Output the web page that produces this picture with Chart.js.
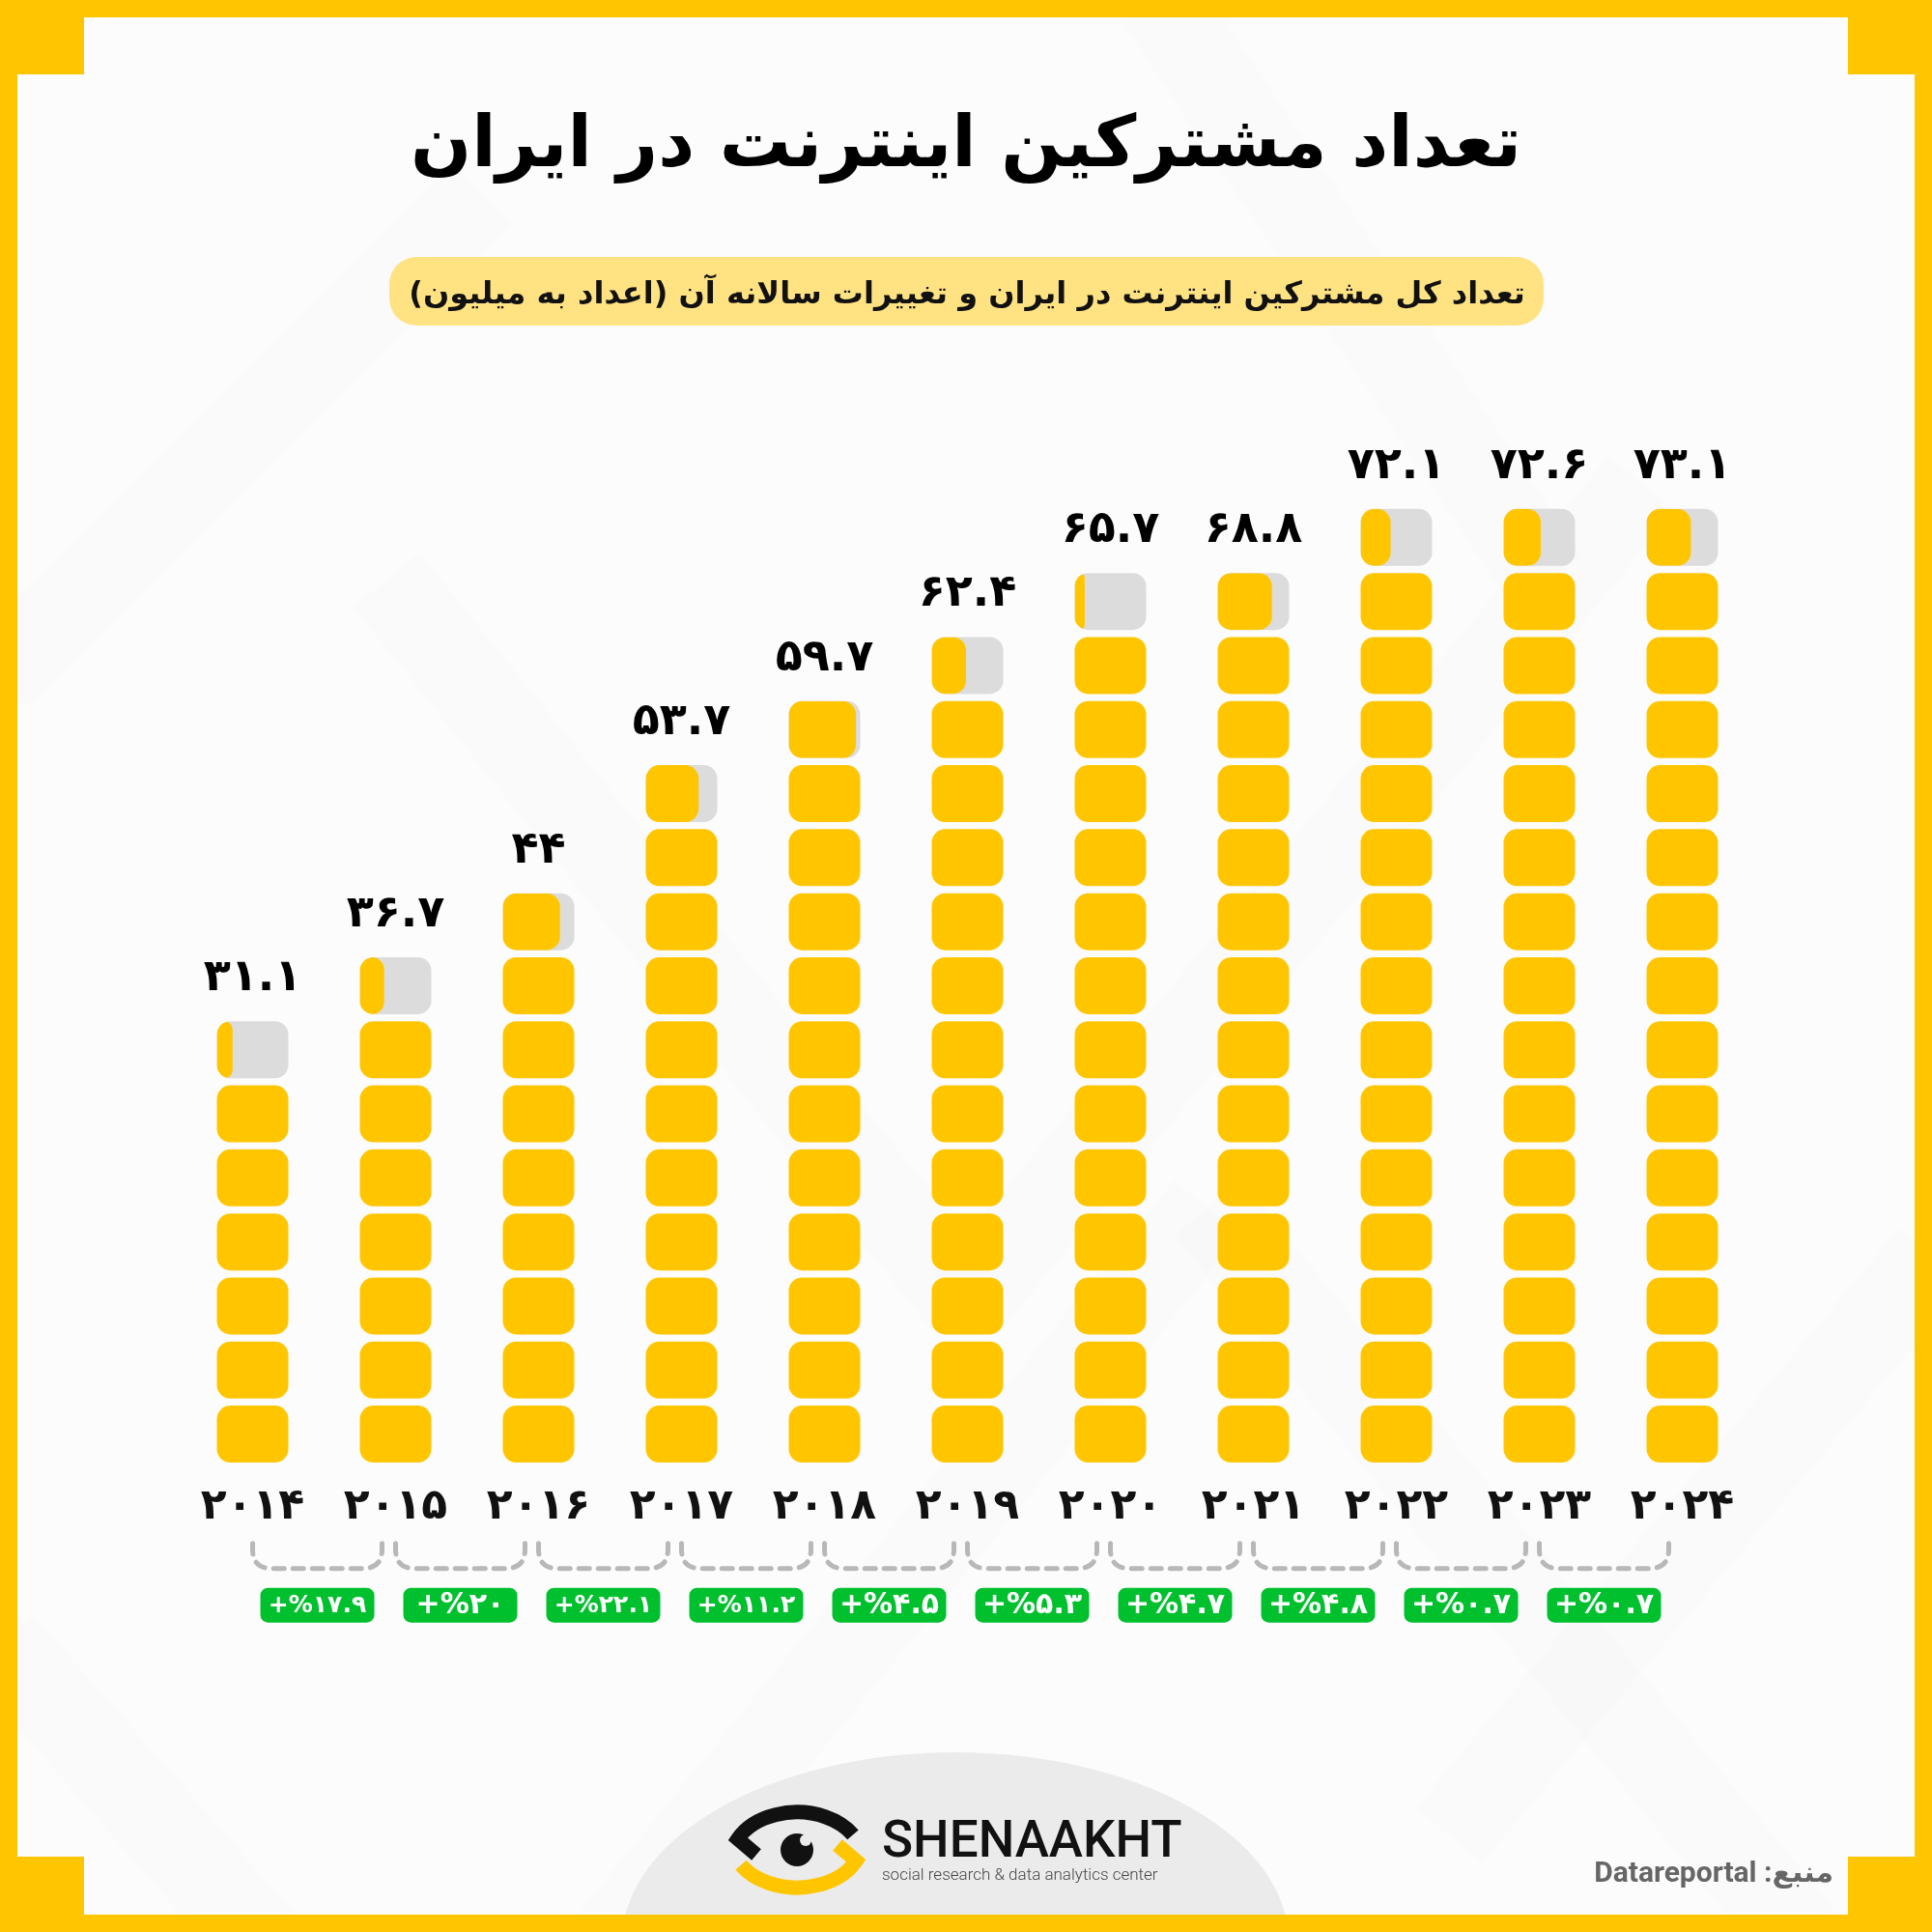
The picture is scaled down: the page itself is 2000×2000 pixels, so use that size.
<!DOCTYPE html>
<html>
<head>
<meta charset="utf-8">
<script src="https://cdn.jsdelivr.net/npm/chart.js@4.4.1/dist/chart.umd.min.js"></script>
<style>
  html, body { margin: 0; padding: 0; background: #fff; }
  canvas { display: block; }
</style>
</head>
<body>
<canvas id="chart" width="2000" height="2000"></canvas>
<script>
// data (millions of subscribers)
const years = [2014, 2015, 2016, 2017, 2018, 2019, 2020, 2021, 2022, 2023, 2024];
const subscribers = [31.1, 36.7, 44, 53.7, 59.7, 62.4, 65.7, 68.8, 72.1, 72.6, 73.1];
const growth = [17.9, 20, 22.1, 11.2, 4.5, 5.3, 4.7, 4.8, 0.7, 0.7];

const title = 'تعداد مشترکین اینترنت در ایران';
const subtitle = 'تعداد کل مشترکین اینترنت در ایران و تغییرات سالانه آن (اعداد به میلیون)';
const source = 'منبع: Datareportal';

const blockSize = 5;     // one block = 5 million
const gap = 0.275;       // gap between blocks, in value units
const yellow = '#FFC600';
const grey = '#DCDCDC';
const green = '#00C02E';

const toFa = s => String(s).replace(/\d/g, d => '۰۱۲۳۴۵۶۷۸۹'[d]);

const fullCounts = subscribers.map(v => Math.floor(v / blockSize));
const maxBlocks = Math.max(...fullCounts);

const datasets = [];
for (let k = 0; k < maxBlocks; k++) {
  datasets.push({
    label: 'block ' + (k + 1),
    data: fullCounts.map(n => k < n ? [k * blockSize + gap, (k + 1) * blockSize - gap] : null),
    backgroundColor: yellow
  });
}
// top block: grey shell, yellow part drawn over it by the plugin below
datasets.push({
  label: 'remainder',
  data: fullCounts.map(n => [n * blockSize + gap, (n + 1) * blockSize - gap]),
  backgroundColor: grey
});
datasets.forEach(d => {
  d.grouped = false;
  d.borderRadius = 14;
  d.borderSkipped = false;
  d.barPercentage = 0.5;
  d.categoryPercentage = 1;
});

function fitFont(ctx, text, weight, family, maxSize, maxWidth) {
  let size = maxSize;
  ctx.font = `${weight} ${size}px ${family}`;
  const w = ctx.measureText(text).width;
  if (w > maxWidth) size = Math.floor(size * maxWidth / w);
  ctx.font = `${weight} ${size}px ${family}`;
  return size;
}

const frame = {
  id: 'frame',
  beforeDraw(chart) {
    const ctx = chart.ctx;
    ctx.save();
    ctx.fillStyle = yellow;
    ctx.fillRect(0, 0, 2000, 2000);
    ctx.fillStyle = '#FCFCFC';
    ctx.fillRect(18, 18, 1964, 1964);
    // faint diagonal bands
    ctx.beginPath();
    ctx.rect(18, 18, 1964, 1964);
    ctx.clip();
    ctx.strokeStyle = 'rgba(0,0,0,0.008)';
    ctx.lineWidth = 90;
    [[0, 1700, 350, 2100], [600, 2050, 1250, 1250], [1250, 1250, 1900, 2050],
     [400, 600, 1000, 1350], [1000, 1350, 1700, 500], [1200, 0, 1600, 600],
     [0, 700, 500, 200], [1500, 1900, 2000, 1300]].forEach(l => {
      ctx.beginPath(); ctx.moveTo(l[0], l[1]); ctx.lineTo(l[2], l[3]); ctx.stroke();
    });
    // footer half ellipse
    ctx.fillStyle = '#EBEBEB';
    ctx.beginPath();
    ctx.ellipse(989, 2010, 345, 196, 0, 0, Math.PI * 2);
    ctx.fill();
    ctx.restore();
    ctx.save();
    ctx.fillStyle = yellow;
    ctx.fillRect(0, 0, 87, 77);
    ctx.fillRect(1913, 0, 87, 77);
    ctx.fillRect(0, 1922, 87, 78);
    ctx.fillRect(1913, 1922, 87, 78);
    ctx.restore();
  }
};

const partialFill = {
  id: 'partialFill',
  afterDatasetsDraw(chart) {
    const ctx = chart.ctx;
    const meta = chart.getDatasetMeta(chart.data.datasets.length - 1);
    meta.data.forEach((bar, i) => {
      const frac = (subscribers[i] - fullCounts[i] * blockSize) / blockSize;
      const left = bar.x - bar.width / 2;
      const top = Math.min(bar.y, bar.base);
      const h = Math.abs(bar.base - bar.y);
      const fw = bar.width * frac;
      ctx.save();
      ctx.beginPath();
      ctx.roundRect(left, top, bar.width, h, 14);
      ctx.clip();
      ctx.fillStyle = yellow;
      ctx.beginPath();
      ctx.roundRect(left, top, fw, h, Math.min(14, fw / 2));
      ctx.fill();
      ctx.restore();
    });
  }
};

function eyeShape(ctx) {
  ctx.beginPath();
  ctx.moveTo(-42, 5);
  ctx.lineTo(-68 * Math.cos(0.45), 10 - 49 * Math.sin(0.45));
  ctx.ellipse(0, 10, 68, 49, 0, Math.PI + 0.45, 2 * Math.PI - 0.55);
  ctx.stroke();
}

const annotations = {
  id: 'annotations',
  afterDraw(chart) {
    const ctx = chart.ctx;
    const xs = chart.scales.x;
    const bottom = chart.chartArea.bottom;
    const meta = chart.getDatasetMeta(chart.data.datasets.length - 1);

    // value labels above each column
    ctx.save();
    ctx.fillStyle = '#000';
    ctx.textAlign = 'center';
    ctx.textBaseline = 'middle';
    ctx.font = 'bold 46px "DejaVu Sans"';
    meta.data.forEach((bar, i) => {
      ctx.fillText(toFa(subscribers[i]), bar.x, Math.min(bar.y, bar.base) - 44);
    });
    ctx.restore();

    // dashed connectors + growth badges
    ctx.save();
    growth.forEach((g, i) => {
      const x1 = xs.getPixelForValue(i);
      const x2 = xs.getPixelForValue(i + 1) - 14;
      const yt = bottom + 80, yb = bottom + 106;
      ctx.strokeStyle = '#B8B8B8';
      ctx.lineWidth = 5;
      ctx.lineCap = 'round';
      ctx.setLineDash([11, 9]);
      ctx.beginPath();
      ctx.moveTo(x1, yt);
      ctx.lineTo(x1, yt + 6);
      ctx.quadraticCurveTo(x1, yb, x1 + 20, yb);
      ctx.lineTo(x2 - 20, yb);
      ctx.quadraticCurveTo(x2, yb, x2, yt + 6);
      ctx.lineTo(x2, yt);
      ctx.stroke();
      ctx.setLineDash([]);

      const cx = (x1 + x2) / 2;
      ctx.fillStyle = green;
      ctx.beginPath();
      ctx.roundRect(cx - 59, bottom + 126, 118, 36, 8);
      ctx.fill();
      ctx.fillStyle = '#fff';
      ctx.textAlign = 'center';
      ctx.textBaseline = 'middle';
      ctx.direction = 'ltr';
      fitFont(ctx, '+%' + toFa(g), 'bold', '"DejaVu Sans"', 30, 104);
      ctx.fillText('+%' + toFa(g), cx, bottom + 145);
    });
    ctx.restore();

    // title
    ctx.save();
    ctx.direction = 'rtl';
    ctx.textAlign = 'center';
    ctx.textBaseline = 'alphabetic';
    ctx.fillStyle = '#000';
    fitFont(ctx, title, 'bold', '"DejaVu Sans"', 110, 1157);
    ctx.fillText(title, 1000, 172);

    // subtitle pill
    ctx.fillStyle = '#FFE383';
    ctx.beginPath();
    ctx.roundRect(403, 266, 1195, 71, 28);
    ctx.fill();
    ctx.fillStyle = '#111';
    fitFont(ctx, subtitle, 'bold', '"DejaVu Sans"', 40, 1160);
    ctx.fillText(subtitle, 1001, 314);

    // source
    ctx.textAlign = 'right';
    ctx.fillStyle = '#666';
    fitFont(ctx, source, 'bold', 'Roboto, "DejaVu Sans"', 30, 253);
    ctx.fillText(source, 1898, 1948);
    ctx.restore();

    // logo
    ctx.save();
    ctx.translate(825, 1915);
    ctx.lineWidth = 15;
    ctx.lineJoin = 'miter';
    ctx.strokeStyle = '#111';
    eyeShape(ctx);
    ctx.rotate(Math.PI);
    ctx.strokeStyle = yellow;
    eyeShape(ctx);
    ctx.restore();
    ctx.save();
    ctx.fillStyle = '#111';
    ctx.beginPath(); ctx.arc(825, 1915, 17, 0, Math.PI * 2); ctx.fill();
    ctx.fillStyle = '#EBEBEB';
    ctx.beginPath(); ctx.arc(834, 1905, 6, 0, Math.PI * 2); ctx.fill();
    ctx.fillStyle = '#111';
    ctx.textAlign = 'left';
    ctx.textBaseline = 'alphabetic';
    fitFont(ctx, 'SHENAAKHT', '500', 'Roboto', 54, 311);
    ctx.fillText('SHENAAKHT', 913, 1922);
    ctx.fillStyle = '#444';
    fitFont(ctx, 'social research & data analytics center', '300', 'Roboto', 24, 302);
    ctx.fillText('social research & data analytics center', 913, 1946);
    ctx.restore();
  }
};

new Chart(document.getElementById('chart'), {
  type: 'bar',
  data: {
    labels: years.map(toFa),
    datasets
  },
  options: {
    responsive: false,
    animation: false,
    devicePixelRatio: 1,
    layout: { padding: { left: 187.5, right: 184.5, top: 456.9, bottom: 422.3 } },
    scales: {
      x: {
        grid: { display: false, drawTicks: false },
        border: { display: false },
        ticks: {
          color: '#111',
          font: { family: 'DejaVu Sans', weight: 'bold', size: 44 },
          padding: 16,
          autoSkip: false,
          maxRotation: 0
        },
        afterFit: axis => { axis.height = 60; }
      },
      y: { display: false, min: 0, max: 80 }
    },
    plugins: {
      legend: { display: false },
      tooltip: { enabled: false }
    }
  },
  plugins: [frame, partialFill, annotations]
});
</script>
</body>
</html>
